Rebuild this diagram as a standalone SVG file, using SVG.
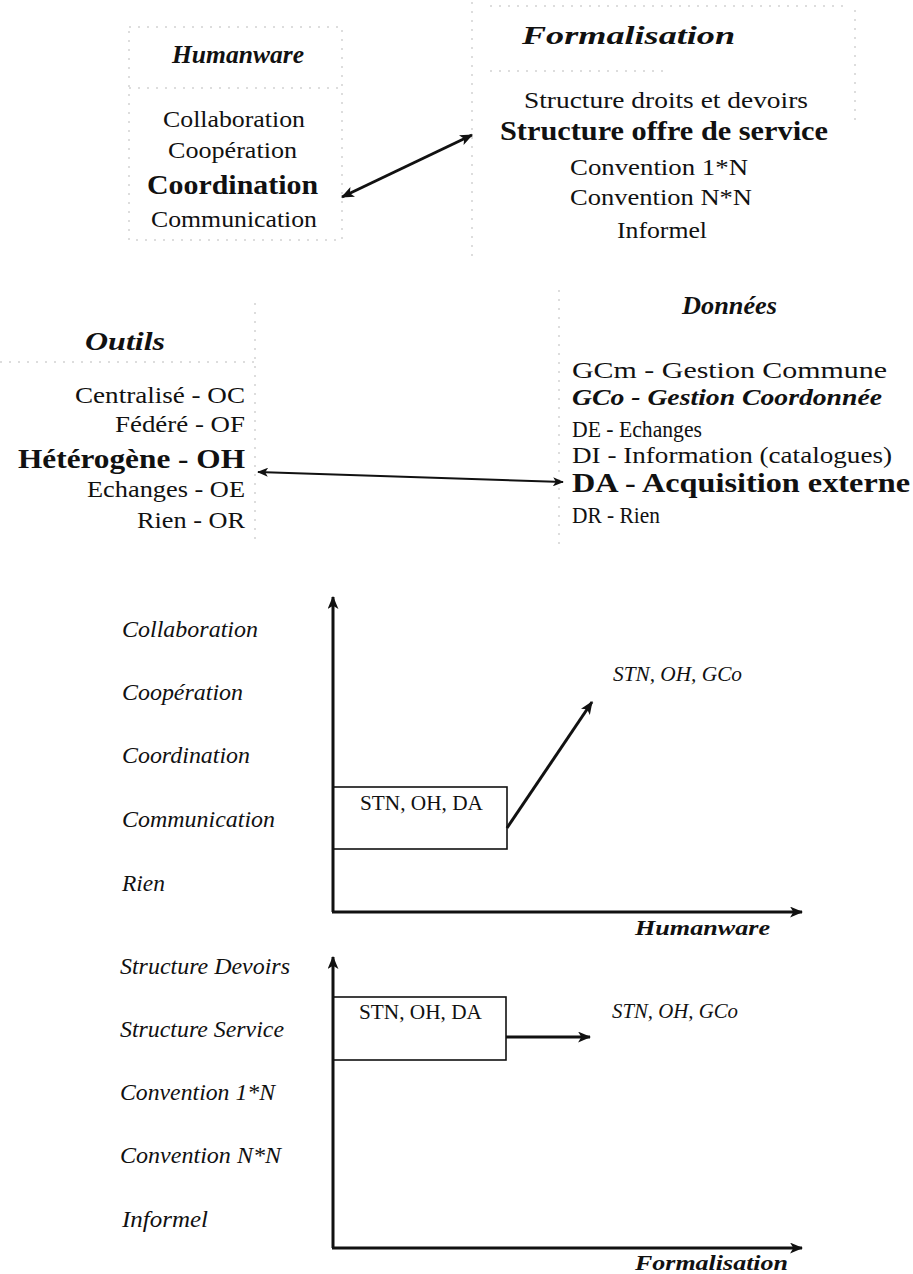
<svg xmlns="http://www.w3.org/2000/svg" width="913" height="1274" viewBox="0 0 913 1274">
<style>
text{font-family:"Liberation Serif","Times New Roman",Times,serif;fill:#111}
.r{font-size:24px}
.b{font-size:28px;font-weight:bold}
.t{font-size:25px;font-weight:bold;font-style:italic}
.bi{font-size:24px;font-weight:bold;font-style:italic}
.al{font-size:21px;font-weight:bold;font-style:italic}
.i{font-size:23px;font-style:italic}
.s{font-size:20px}
.si{font-size:20px;font-style:italic}
.frame{stroke:#bbb;stroke-width:1;stroke-dasharray:2 7;fill:none}
.box{fill:none;stroke:#111;stroke-width:1.6}
.ax{stroke:#111;stroke-width:3;fill:none}
.ar{stroke:#111;stroke-width:3;fill:none}
.ar2{stroke:#111;stroke-width:2;fill:none}
</style>
<defs>
<marker id="ah" viewBox="0 0 12 10" refX="11" refY="5" markerWidth="13" markerHeight="11" markerUnits="userSpaceOnUse" orient="auto-start-reverse">
<path d="M0,0 L12,5 L0,10 L3,5 z" fill="#111"/>
</marker>
<marker id="ahs" viewBox="0 0 12 10" refX="11" refY="5" markerWidth="11" markerHeight="9" markerUnits="userSpaceOnUse" orient="auto-start-reverse">
<path d="M0,0 L12,5 L0,10 L3,5 z" fill="#111"/>
</marker>
</defs>

<g id="humanware">
<rect class="frame" x="129" y="27" width="213" height="213"/>
<line class="frame" x1="129" y1="88" x2="342" y2="88"/>
<text class="t" x="172" y="63" textLength="132" lengthAdjust="spacingAndGlyphs">Humanware</text>
<text class="r" x="163" y="127" textLength="142" lengthAdjust="spacingAndGlyphs">Collaboration</text>
<text class="r" x="168" y="158" textLength="129" lengthAdjust="spacingAndGlyphs">Coopération</text>
<text class="b" x="147" y="194" textLength="171" lengthAdjust="spacingAndGlyphs">Coordination</text>
<text class="r" x="151" y="227" textLength="166" lengthAdjust="spacingAndGlyphs">Communication</text>
</g>

<g id="formalisation">
<line class="frame" x1="472" y1="2" x2="472" y2="262"/>
<line class="frame" x1="490" y1="6" x2="850" y2="6"/>
<line class="frame" x1="855" y1="10" x2="855" y2="120"/>
<line class="frame" x1="490" y1="71" x2="670" y2="71"/>
<text class="t" x="522" y="44" textLength="213" lengthAdjust="spacingAndGlyphs">Formalisation</text>
<text class="r" x="524" y="108" textLength="284" lengthAdjust="spacingAndGlyphs">Structure droits et devoirs</text>
<text class="b" x="500" y="140" textLength="328" lengthAdjust="spacingAndGlyphs">Structure offre de service</text>
<text class="r" x="570" y="175" textLength="178" lengthAdjust="spacingAndGlyphs">Convention 1*N</text>
<text class="r" x="570" y="205" textLength="182" lengthAdjust="spacingAndGlyphs">Convention N*N</text>
<text class="r" x="617" y="238" textLength="90" lengthAdjust="spacingAndGlyphs">Informel</text>
</g>

<g id="outils">
<line class="frame" x1="255" y1="303" x2="255" y2="540"/>
<line class="frame" x1="0" y1="362" x2="255" y2="362"/>
<text class="t" x="85" y="350" textLength="80" lengthAdjust="spacingAndGlyphs">Outils</text>
<text class="r" x="75" y="403" textLength="170" lengthAdjust="spacingAndGlyphs">Centralisé - OC</text>
<text class="r" x="115" y="432" textLength="130" lengthAdjust="spacingAndGlyphs">Fédéré - OF</text>
<text class="b" x="18" y="468" textLength="227" lengthAdjust="spacingAndGlyphs">Hétérogène - OH</text>
<text class="r" x="87" y="497" textLength="158" lengthAdjust="spacingAndGlyphs">Echanges - OE</text>
<text class="r" x="137" y="528" textLength="108" lengthAdjust="spacingAndGlyphs">Rien - OR</text>
</g>

<g id="donnees">
<line class="frame" x1="559" y1="290" x2="559" y2="550"/>
<text class="t" x="682" y="314" textLength="95" lengthAdjust="spacingAndGlyphs">Données</text>
<text class="r" x="572" y="378" textLength="315" lengthAdjust="spacingAndGlyphs">GCm - Gestion Commune</text>
<text class="bi" x="572" y="405" textLength="310" lengthAdjust="spacingAndGlyphs">GCo - Gestion Coordonnée</text>
<text class="r" x="572" y="437" textLength="130" lengthAdjust="spacingAndGlyphs">DE - Echanges</text>
<text class="r" x="572" y="463" textLength="320" lengthAdjust="spacingAndGlyphs">DI - Information (catalogues)</text>
<text class="b" x="572" y="492" textLength="338" lengthAdjust="spacingAndGlyphs">DA - Acquisition externe</text>
<text class="r" x="572" y="523" textLength="88" lengthAdjust="spacingAndGlyphs">DR - Rien</text>
</g>

<g id="chart-humanware">
<text class="i" x="122" y="637" textLength="136" lengthAdjust="spacingAndGlyphs">Collaboration</text>
<text class="i" x="122" y="700" textLength="121" lengthAdjust="spacingAndGlyphs">Coopération</text>
<text class="i" x="122" y="763" textLength="128" lengthAdjust="spacingAndGlyphs">Coordination</text>
<text class="i" x="122" y="827" textLength="153" lengthAdjust="spacingAndGlyphs">Communication</text>
<text class="i" x="122" y="891" textLength="43" lengthAdjust="spacingAndGlyphs">Rien</text>
<text class="al" x="635" y="935" textLength="135" lengthAdjust="spacingAndGlyphs">Humanware</text>
</g>
<g id="box1">
<rect class="box" x="333" y="787" width="174" height="62"/>
<text class="s" x="360" y="810" textLength="123" lengthAdjust="spacingAndGlyphs">STN, OH, DA</text>
</g>
<g id="target1">
<text class="si" x="613" y="681" textLength="129" lengthAdjust="spacingAndGlyphs">STN, OH, GCo</text>
</g>

<g id="chart-formalisation">
<text class="i" x="120" y="974" textLength="170" lengthAdjust="spacingAndGlyphs">Structure Devoirs</text>
<text class="i" x="120" y="1037" textLength="164" lengthAdjust="spacingAndGlyphs">Structure Service</text>
<text class="i" x="120" y="1100" textLength="155" lengthAdjust="spacingAndGlyphs">Convention 1*N</text>
<text class="i" x="120" y="1163" textLength="161" lengthAdjust="spacingAndGlyphs">Convention N*N</text>
<text class="i" x="122" y="1227" textLength="86" lengthAdjust="spacingAndGlyphs">Informel</text>
<text class="al" x="635" y="1270" textLength="153" lengthAdjust="spacingAndGlyphs">Formalisation</text>
</g>
<g id="box2">
<rect class="box" x="333" y="997" width="173" height="63"/>
<text class="s" x="359" y="1019" textLength="123" lengthAdjust="spacingAndGlyphs">STN, OH, DA</text>
</g>
<g id="target2">
<text class="si" x="612" y="1018" textLength="126" lengthAdjust="spacingAndGlyphs">STN, OH, GCo</text>
</g>

<g id="connectors">
<line class="ar" x1="342" y1="197" x2="472" y2="135" marker-start="url(#ah)" marker-end="url(#ah)"/>
<line class="ar2" x1="258" y1="472" x2="563" y2="482" marker-start="url(#ahs)" marker-end="url(#ahs)"/>
<line class="ax" x1="333" y1="912" x2="333" y2="597" marker-end="url(#ah)"/>
<line class="ax" x1="332" y1="912" x2="802" y2="912" marker-end="url(#ah)"/>
<line class="ar" x1="507" y1="828" x2="592" y2="702" marker-end="url(#ah)"/>
<line class="ax" x1="333" y1="1248" x2="333" y2="957" marker-end="url(#ah)"/>
<line class="ax" x1="332" y1="1248" x2="802" y2="1248" marker-end="url(#ah)"/>
<line class="ar" x1="506" y1="1037" x2="590" y2="1037" marker-end="url(#ah)"/>
</g>
</svg>
